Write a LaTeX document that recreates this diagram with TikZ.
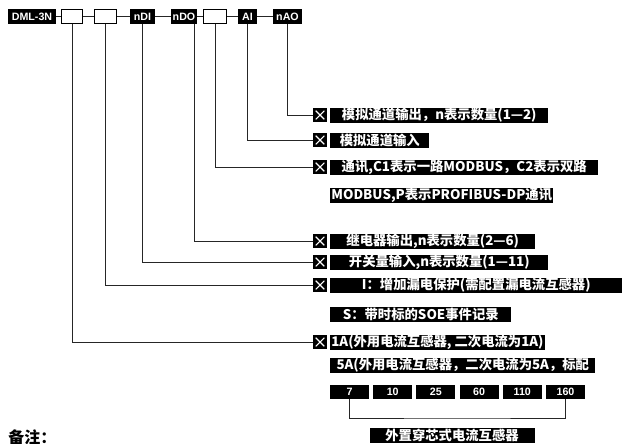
\documentclass[tikz,border=0pt]{standalone}
\usepackage{fontspec}
\setmainfont{Liberation Sans}
\newfontfamily\cjk{Noto Sans CJK SC}
\begin{document}
\begin{tikzpicture}[x=0.75pt,y=-0.75pt,
  top/.style={fill=black,text=white,inner sep=0pt,minimum height=11.25pt,font=\bfseries\fontsize{8}{9}\selectfont},
  topw/.style={draw=black,fill=white,line width=0.8pt,inner sep=0pt,minimum height=10.5pt},
  lab/.style={fill=black,text=white,anchor=west,inner xsep=0.8pt,inner ysep=0pt,minimum height=11.25pt,font=\cjk\bfseries\fontsize{10}{11}\selectfont},
  icon/.style={fill=black,minimum size=10pt,inner sep=0pt,
    path picture={
      \draw[white,line width=0.8pt] ([shift={(1.8pt,1.8pt)}]path picture bounding box.south west) -- ([shift={(-1.8pt,-1.8pt)}]path picture bounding box.north east);
      \draw[white,line width=0.8pt] ([shift={(1.8pt,-1.8pt)}]path picture bounding box.north west) -- ([shift={(-1.8pt,1.8pt)}]path picture bounding box.south east);}},
  num/.style={fill=black,text=white,inner sep=0pt,minimum height=10pt,minimum width=29.25pt,font=\bfseries\fontsize{8}{9}\selectfont},
  conn/.style={draw=black!85,line width=0.6pt}
]
\useasboundingbox[fill=white] (0,0) rectangle (624,443);

% top row
\node[top,minimum width=36pt]    (t0) at (32,16.5)   {DML-3N};
\node[topw,minimum width=15.7pt] (t1) at (72,16.5)   {};
\node[topw,minimum width=16.5pt] (t2) at (105.5,16.5) {};
\node[top,minimum width=18.75pt] (t3) at (142.5,16.5) {nDI};
\node[top,minimum width=19.5pt]  (t4) at (184,16.5)  {nDO};
\node[topw,minimum width=17.2pt] (t5) at (215,16.5)  {};
\node[top,minimum width=14.25pt] (t6) at (247.5,16.5) {AI};
\node[top,minimum width=21.75pt] (t7) at (287.5,16.5) {nAO};
\foreach \a/\b in {t0/t1,t1/t2,t2/t3,t3/t4,t4/t5,t5/t6,t6/t7}
  \draw[conn] (\a) -- (\b);

% icons
\node[icon] (i1) at (320,115) {};
\node[icon] (i2) at (320,140) {};
\node[icon] (i3) at (320,167) {};
\node[icon] (i5) at (320,241) {};
\node[icon] (i6) at (320,262) {};
\node[icon] (i7) at (320,285) {};
\node[icon] (i9) at (320,342) {};

% labels
\node[lab,minimum width=163.5pt]  (l1)  at (330,115) {模拟通道输出，n表示数量(1—2)};
\node[lab,minimum width=74.25pt]  (l2)  at (330,140) {模拟通道输入};
\node[lab,minimum width=201pt]    (l3)  at (330,167) {通讯,C1表示一路MODBUS，C2表示双路};
\node[lab,minimum width=165pt]    (l4)  at (330,195) {MODBUS,P表示PROFIBUS-DP通讯};
\node[lab,minimum width=153.75pt] (l5)  at (330,241) {继电器输出,n表示数量(2—6)};
\node[lab,minimum width=163.5pt]  (l6)  at (330,262) {开关量输入,n表示数量(1—11)};
\node[lab,minimum width=219pt]    (l7)  at (330,285) {I：增加漏电保护(需配置漏电流互感器)};
\node[lab,minimum width=135.75pt] (l8)  at (330,314) {S：带时标的SOE事件记录};
\node[lab,minimum width=153.75pt] (l9)  at (330,342) {1A(外用电流互感器, 二次电流为1A)};
\node[lab,minimum width=198.75pt] (l10) at (330,365) {5A(外用电流互感器，二次电流为5A，标配};

% connectors from top boxes
\draw[conn] (t7.south) |- (i1.west);
\draw[conn] (t6.south) |- (i2.west);
\draw[conn] (t5.south) |- (i3.west);
\draw[conn] ([xshift=-2.5pt]t4.south east) |- (i5.west);
\draw[conn] (t3.south) |- (i6.west);
\draw[conn] (t2.south) |- (i7.west);
\draw[conn] (t1.south) |- (i9.west);

% number boxes
\node[num] (n1) at (349.5,392) {7};
\node[num] (n2) at (392.7,392) {10};
\node[num] (n3) at (435.9,392) {25};
\node[num] (n4) at (479.1,392) {60};
\node[num] (n5) at (522.3,392) {110};
\node[num] (n6) at (565.5,392) {160};
\coordinate (bk) at (457,418);
\draw[conn] (n1.south) |- (bk) -| (n6.south);

\node[lab,anchor=center,minimum width=123.75pt] (bl) at (452,435) {外置穿芯式电流互感器};

\node[anchor=north west,inner sep=0pt,font=\cjk\bfseries\fontsize{12}{14}\selectfont] (note) at (8,429) {备注：};
\end{tikzpicture}
\end{document}
